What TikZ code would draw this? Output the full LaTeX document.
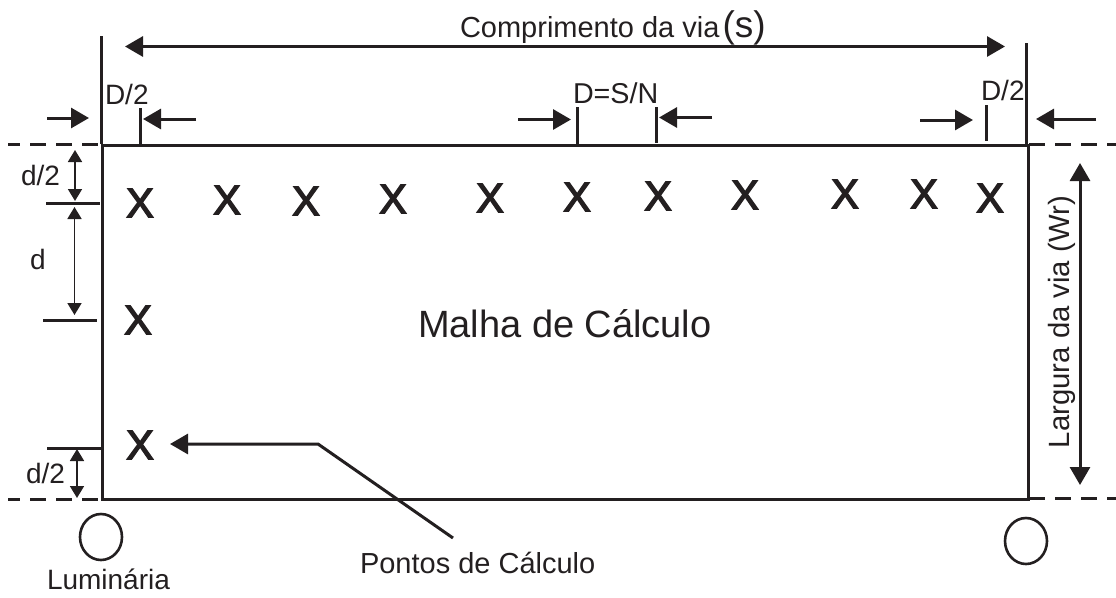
\documentclass[tikz,border=0pt]{standalone}
\usepackage{fontspec}
\setmainfont{Liberation Sans}
\newfontfamily\crossfont[FakeBold=3.5]{Liberation Sans}
\usetikzlibrary{arrows.meta}
\definecolor{ink}{HTML}{231F20}
\newcommand{\fs}[1]{\fontsize{#1pt}{#1pt}\selectfont}
\tikzset{
  x=1pt,y=-1pt,
  every node/.style={inner sep=0pt,outer sep=0pt,text=ink},
  heavy/.style={draw=ink,line width=3pt,line cap=butt},
  medium/.style={draw=ink,line width=3pt},
  thin dim/.style={draw=ink,line width=1.8pt,{Triangle[length=12pt,width=14pt]}-{Triangle[length=12pt,width=14pt]}},
  big arrow/.style={draw=ink,line width=3pt,-{Triangle[length=18pt,width=20pt]}},
  both big/.style={draw=ink,line width=3pt,{Triangle[length=18pt,width=20pt]}-{Triangle[length=18pt,width=20pt]}},
  dashline/.style={draw=ink,line width=3pt,dash pattern=on 16pt off 10pt},
  lbl/.style={anchor=base west,font=\fs{28}},
  cross/.style={font=\crossfont\fs{41}},
}
\begin{document}
\begin{tikzpicture}
\useasboundingbox (0,0) rectangle (1116,597);
% coordinates
\coordinate (tl) at (102.5,145.5);
\coordinate (tr) at (1028,145.5);
\coordinate (br) at (1028,499.5);
\coordinate (bl) at (102.5,499.5);
% road rectangle
\draw[heavy,line join=miter] (tl) -- (tr) -- (br) -- (bl) -- cycle;
% extension lines
\coordinate (lup) at (101,36); \coordinate (lupb) at (101,144);
\coordinate (rup) at (1026,43); \coordinate (rupb) at (1026,144);
\draw[heavy] (lup) -- (lupb);
\draw[heavy] (rup) -- (rupb);
% dashed lines
\coordinate (dtl) at (8,144); \coordinate (dtl2) at (101,144);
\coordinate (dbl) at (8,499); \coordinate (dbl2) at (101,499);
\coordinate (dtr) at (1029,144); \coordinate (dtr2) at (1116,144);
\coordinate (dbr) at (1029,498); \coordinate (dbr2) at (1116,498);
\draw[dashline,dash phase=4pt] (dtl) -- (dtl2);
\draw[dashline,dash phase=4pt] (dbl) -- (dbl2);
\draw[dashline] (dtr) -- (dtr2);
\draw[dashline] (dbr) -- (dbr2);
% length arrow
\coordinate (la) at (125,46.5); \coordinate (lb) at (1005,46.5);
\draw[both big] (la) -- (lb);
\node[anchor=base west,font=\fs{29}] (comp) at (460,37) {Comprimento da via\hspace{3pt}{\fs{37}(s)}};
% D/2 left
\coordinate (a1s) at (47,118); \coordinate (a1e) at (89,118);
\draw[big arrow] (a1s) -- (a1e);
\coordinate (t1a) at (140,108); \coordinate (t1b) at (140,145);
\draw[medium] (t1a) -- (t1b);
\coordinate (a2s) at (196,119); \coordinate (a2e) at (143,119);
\draw[big arrow] (a2s) -- (a2e);
\node[lbl] (dl) at (105,104) {D/2};
% D=S/N
\coordinate (a3s) at (518,119.5); \coordinate (a3e) at (571,119.5);
\draw[big arrow] (a3s) -- (a3e);
\coordinate (t2a) at (577,107); \coordinate (t2b) at (577,145);
\draw[medium] (t2a) -- (t2b);
\coordinate (t3a) at (656,107); \coordinate (t3b) at (656,143);
\draw[medium] (t3a) -- (t3b);
\coordinate (a4s) at (712,117.5); \coordinate (a4e) at (659,117.5);
\draw[big arrow] (a4s) -- (a4e);
\node[anchor=base west,font=\fs{28.7}] (dsn) at (573,103) {D=S/N};
% D/2 right
\coordinate (a5s) at (920,120); \coordinate (a5e) at (973,120);
\draw[big arrow] (a5s) -- (a5e);
\coordinate (t4a) at (986,105); \coordinate (t4b) at (986,141);
\draw[medium] (t4a) -- (t4b);
\coordinate (a6s) at (1096,119); \coordinate (a6e) at (1036,119);
\draw[big arrow] (a6s) -- (a6e);
\node[lbl] (dr) at (981,100) {D/2};
% width arrow
\coordinate (wa) at (1080,163); \coordinate (wb) at (1080,485);
\draw[both big] (wa) -- (wb);
\node[anchor=base west,font=\fs{29.3},rotate=90] (larg) at (1069,448) {Largura da via (Wr)};
% left dimensions
\coordinate (h1a) at (46,203); \coordinate (h1b) at (100,203);
\draw[medium] (h1a) -- (h1b);
\coordinate (h2a) at (43,320); \coordinate (h2b) at (97,320);
\draw[medium] (h2a) -- (h2b);
\coordinate (h3a) at (47,448); \coordinate (h3b) at (101,448);
\draw[medium] (h3a) -- (h3b);
\coordinate (v1a) at (75,150); \coordinate (v1b) at (75,201);
\draw[thin dim] (v1a) -- (v1b);
\coordinate (v2a) at (74.5,207); \coordinate (v2b) at (74.5,315);
\draw[thin dim] (v2a) -- (v2b);
\coordinate (v3a) at (77,449); \coordinate (v3b) at (77,498);
\draw[thin dim] (v3a) -- (v3b);
\node[lbl] (d1) at (21,185) {d/2};
\node[lbl] (d2) at (30,269) {d};
\node[lbl] (d3) at (26,483) {d/2};
% crosses
\foreach \n/\x/\y in {a/140/203,b/227/200,c/306/201,d/393/199,e/490/198,f/577/197,g/658/196,h/745/195,i/845/194,j/924/194,k/990/198,l/138/320,m/140/445}
  \node[cross] (x\n) at (\x,\y) {X};
% central label
\node[anchor=base west,font=\fs{38}] (malha) at (418,337) {Malha de Cálculo};
% leader
\coordinate (p0) at (453,538); \coordinate (p1) at (318,444); \coordinate (p2) at (170,444);
\draw[big arrow,line join=miter] (p0) -- (p1) -- (p2);
\node[anchor=base west,font=\fs{29}] (pontos) at (360,573) {Pontos de Cálculo};
% luminaires
\draw[draw=ink,line width=2.6pt] (101,537) ellipse [x radius=21,y radius=23];
\draw[draw=ink,line width=2.6pt] (1026,541) ellipse [x radius=21,y radius=23];
\node[anchor=base west,font=\fs{28}] (lum) at (47,589) {Luminária};
\end{tikzpicture}
\end{document}
